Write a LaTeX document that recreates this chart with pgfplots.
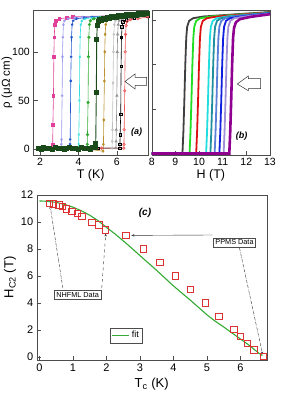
\documentclass[border=0pt]{standalone}
\usepackage{pgfplots}
\pgfplotsset{compat=1.18}
\usepackage{fontspec}
\setmainfont{Liberation Sans}
\usetikzlibrary{arrows.meta}
\definecolor{cMag}{HTML}{E0409A}
\definecolor{cLav}{HTML}{9A9AEE}
\definecolor{cBlu}{HTML}{2255CC}
\definecolor{cCya}{HTML}{33DDDD}
\definecolor{cGrn}{HTML}{33AA33}
\definecolor{cDkg}{HTML}{1A4A1A}
\definecolor{cGld}{HTML}{B8902A}
\definecolor{cLgy}{HTML}{C0C0C0}
\definecolor{cGry}{HTML}{909090}
\definecolor{cRed}{HTML}{EE5555}
\definecolor{bBlk}{HTML}{404040}
\definecolor{bGrn}{HTML}{22DD22}
\definecolor{bRed}{HTML}{DD1111}
\definecolor{bCya}{HTML}{22DDDD}
\definecolor{bTea}{HTML}{2090A0}
\definecolor{bSte}{HTML}{5A80D8}
\definecolor{bBlu}{HTML}{1020E0}
\definecolor{bLav}{HTML}{A090D8}
\definecolor{bPur}{HTML}{900090}
\definecolor{fitG}{HTML}{33AA33}
\definecolor{sqR}{HTML}{DD3333}
\pgfplotsset{
  common/.style={scale only axis, anchor=south west,
    /pgf/number format/assume math mode=true,
    tick label style={font=\fontsize{10.5}{12}\selectfont},
    label style={font=\fontsize{12.5}{14}\selectfont},
    axis line style={black!70}, tick style={black!70},
    xtick pos=bottom, ytick pos=left},
}
\begin{document}
\begin{tikzpicture}[x=1pt,y=1pt]
\useasboundingbox (0,0) rectangle (293,404);
% ---------------- panel (a)
\begin{axis}[common, at={(33.3pt,249pt)}, width=114.7pt, height=145pt,
  xmin=1.65, xmax=7.62, ymin=-6, ymax=143,
  xtick={2,4,6}, ytick={0,50,100},
  xlabel={T (K)}, ylabel={ρ (μΩ cm)},
  xlabel style={yshift=3pt}, ylabel style={yshift=-7pt, font=\fontsize{11.5}{13}\selectfont},
  every axis plot/.append style={line width=0.6pt, mark size=1.3pt}]
\addplot[cMag, mark=square*] coordinates {(1.9,0.5)(2.3,1)(2.65,1)(2.66,5)(2.67,25)(2.70,55)(2.72,95)(2.74,115)(2.77,128)(2.82,132)(3.0,134)(3.4,135)(3.7,136)(7.6,138)};
\addplot[cLav, mark=asterisk] coordinates {(1.9,0.5)(2.5,1)(3.10,1)(3.11,5)(3.12,10)(3.15,55)(3.17,95)(3.19,115)(3.22,128)(3.27,132)(3.45,134)(3.8,135)(4.2,136)(7.6,138)};
\addplot[cBlu, mark=asterisk] coordinates {(1.9,0.5)(2.8,1)(3.55,1)(3.56,5)(3.57,10)(3.60,70)(3.62,95)(3.64,115)(3.67,128)(3.72,132)(3.9,134)(4.3,135)(4.7,136)(7.6,138)};
\addplot[cCya, mark=x] coordinates {(1.9,0.5)(3.0,1)(4.00,1)(4.01,5)(4.02,15)(4.05,50)(4.07,95)(4.09,115)(4.12,128)(4.17,132)(4.35,134)(4.7,135)(5.1,136)(7.6,138)};
\addplot[cGrn, mark=*] coordinates {(1.9,0.5)(3.4,1)(4.45,1)(4.46,5)(4.47,15)(4.50,48)(4.52,95)(4.54,115)(4.57,128)(4.62,132)(4.8,134)(5.1,135)(5.5,136)(7.6,138)};
\addplot[cGld, mark=diamond*] coordinates {(1.9,0.5)(4.0,1)(5.28,-2)(5.30,5)(5.32,30)(5.35,70)(5.37,100)(5.39,118)(5.42,128)(5.47,132)(5.65,134)(6.0,135)(6.4,136)(7.6,138)};
\addplot[cLgy, mark=diamond] coordinates {(1.9,0.5)(4.5,1)(5.75,1)(5.76,8)(5.77,20)(5.80,68)(5.82,100)(5.84,118)(5.87,128)(5.92,132)(6.1,134)(6.5,135)(7.6,137)};
\addplot[cGry, mark=triangle] coordinates {(1.9,0.5)(4.7,1)(5.95,1)(5.96,8)(5.97,20)(6.00,55)(6.02,100)(6.04,118)(6.07,128)(6.12,132)(6.3,134)(6.7,135)(7.6,137)};
\addplot[black, mark=square] coordinates {(1.9,0.5)(5.0,1)(6.15,1)(6.16,5)(6.17,15)(6.20,36)(6.22,85)(6.24,115)(6.27,126)(6.32,131)(6.5,133)(6.9,135)(7.6,137)};
\addplot[cRed, mark=o] coordinates {(1.9,0.5)(5.2,1)(6.36,1)(6.37,5)(6.38,20)(6.41,60)(6.43,100)(6.45,118)(6.48,127)(6.53,131)(6.7,133)(7.1,134)(7.6,136)};
\addplot[cDkg, line width=0.9pt, mark=square*, mark size=2pt] coordinates {(1.9,1)(2.05,0)(2.2,1.5)(2.35,0.5)(2.5,1)(2.65,0)(2.8,1.5)(2.95,0.5)(3.1,1)(3.25,0)(3.4,1)(3.55,1.5)(3.7,0.5)(3.85,1)(4.0,0)(4.15,1.5)(4.3,0.5)(4.45,1)(4.6,0)(4.75,1.5)(4.88,2)(4.90,6)(4.93,58)(4.95,113)(4.98,127)(5.02,131)(5.1,133)(5.2,132)(5.3,134)(5.4,133)(5.5,135)(5.6,134)(5.7,136)(5.8,135)(5.9,136)(6.0,135)(6.1,137)(6.2,136)(6.3,137)(6.4,136)(6.5,138)(6.6,137)(6.7,138)(6.8,137)(6.9,138)(7.0,137)(7.1,139)(7.2,138)(7.3,139)(7.4,138)(7.5,139)(7.6,139)};
\node[font=\bfseries\itshape\fontsize{9}{10}\selectfont] at (rel axis cs:0.9,0.16) {(a)};
\end{axis}
% ---------------- panel (b)
\begin{axis}[common, at={(151.7pt,249pt)}, width=118.3pt, height=145pt,
  xmin=8, xmax=13, ymin=-0.034, ymax=3.225,
  xtick={8,...,13}, ytick={1,2,3}, yticklabels={},
  xlabel={H (T)}, xlabel style={yshift=3pt},
  every axis plot/.append style={line width=1.8pt, no marks}]
\addplot[bBlk] coordinates {(8,0)(9.30,0)(9.34,0.5)(9.38,1.2)(9.42,2.0)(9.46,2.6)(9.50,2.85)(9.58,2.98)(9.75,3.04)(10.2,3.08)(13,3.18)};
\addplot[bGrn] coordinates {(8,0)(9.60,0)(9.64,0.5)(9.68,1.2)(9.72,2.0)(9.76,2.6)(9.80,2.85)(9.88,2.98)(10.05,3.04)(10.5,3.08)(13,3.17)};
\addplot[bRed] coordinates {(8,0)(9.88,0)(9.92,0.5)(9.96,1.2)(10.00,2.0)(10.04,2.6)(10.08,2.85)(10.16,2.98)(10.33,3.04)(10.78,3.08)(13,3.17)};
\addplot[bCya] coordinates {(8,0)(10.30,0)(10.34,0.5)(10.38,1.2)(10.42,2.0)(10.46,2.6)(10.50,2.85)(10.58,2.98)(10.75,3.04)(11.2,3.08)(13,3.16)};
\addplot[bTea] coordinates {(8,0)(10.48,0)(10.52,0.5)(10.56,1.2)(10.60,2.0)(10.64,2.6)(10.68,2.85)(10.76,2.98)(10.93,3.04)(11.38,3.08)(13,3.16)};
\addplot[bSte] coordinates {(8,0)(10.66,0)(10.70,0.5)(10.74,1.2)(10.78,2.0)(10.82,2.6)(10.86,2.85)(10.94,2.98)(11.11,3.04)(11.56,3.08)(13,3.15)};
\addplot[bBlu] coordinates {(8,0)(10.86,0)(10.90,0.5)(10.94,1.2)(10.98,2.0)(11.02,2.6)(11.06,2.85)(11.14,2.98)(11.31,3.04)(11.76,3.08)(13,3.15)};
\addplot[bLav] coordinates {(8,0)(11.04,0)(11.08,0.5)(11.12,1.2)(11.16,2.0)(11.20,2.6)(11.24,2.85)(11.32,2.98)(11.49,3.04)(11.94,3.08)(13,3.14)};
\addplot[bPur, line width=2.6pt] coordinates {(8,0)(11.28,0)(11.32,0.5)(11.36,1.2)(11.40,2.0)(11.44,2.6)(11.48,2.82)(11.56,2.95)(11.73,3.02)(12.18,3.07)(13,3.13)};
\node[font=\bfseries\itshape\fontsize{9}{10}\selectfont] at (rel axis cs:0.76,0.13) {(b)};
\end{axis}
% open arrows
\draw[black!80, line width=0.5pt, fill=white] (125,322.5) -- (135,330) -- (135,326.5) -- (146.5,326.5) -- (146.5,318.5) -- (135,318.5) -- (135,315) -- cycle;
\draw[black!80, line width=0.5pt, fill=white] (237.3,320) -- (248.3,328) -- (248.3,325.3) -- (260.7,325.3) -- (260.7,315.3) -- (248.3,315.3) -- (248.3,313.3) -- cycle;
% ---------------- panel (c)
\begin{axis}[common, at={(36.7pt,44pt)}, width=230pt, height=165pt,
  xmin=-0.08, xmax=6.78, ymin=-0.25, ymax=12,
  xtick={0,...,6}, ytick={0,2,...,12},
  tick label style={font=\fontsize{11}{12}\selectfont},
  label style={font=\fontsize{13}{15}\selectfont},
  xlabel={T\textsubscript{c} (K)}, ylabel={H\textsubscript{C2} (T)},
  ylabel style={yshift=-2pt},
  legend style={at={(0.39,0.15)}, anchor=center, draw=black!70, font=\fontsize{9}{10}\selectfont, inner sep=1.5pt}]
\addplot[fitG, line width=1.1pt] coordinates {(0,11.56)(0.25,11.53)(0.5,11.45)(0.75,11.3)(1.0,11.1)(1.25,10.83)(1.5,10.5)(1.75,10.1)(2.0,9.6)(2.25,9.12)(2.5,8.6)(2.75,8.06)(3.0,7.5)(3.25,6.95)(3.5,6.4)(3.75,5.82)(4.0,5.25)(4.25,4.72)(4.5,4.2)(4.75,3.65)(5.0,3.1)(5.25,2.62)(5.5,2.2)(5.75,1.75)(6.0,1.3)(6.2,0.95)(6.4,0.55)(6.55,0.25)(6.65,0.08)};
\addlegendentry{fit}
\addplot[only marks, mark=square, mark size=3.2pt, sqR, line width=0.8pt, forget plot] coordinates {(0.30,11.39)(0.42,11.34)(0.58,11.26)(0.68,11.14)(0.80,10.96)(0.97,10.80)(1.13,10.64)(1.27,10.40)(1.57,9.97)(1.77,9.78)(1.97,9.40)(2.58,9.0)(3.1,8.0)(3.6,7.0)(4.05,6.0)(4.5,5.0)(4.95,4.0)(5.35,3.0)(5.8,2.0)(6.0,1.5)(6.2,1.0)(6.4,0.5)(6.68,0.0)};
\draw[densely dashdotted, -{Stealth[length=3pt]}, black!80] (axis cs:0.70,5.08) -- (axis cs:0.32,11.2);
\draw[dashed, -{Stealth[length=3pt]}, black!80] (axis cs:1.86,5.08) -- (axis cs:1.98,9.15);
\draw[-{Stealth[length=3pt]}, black!80] (axis cs:5.17,9.03) -- (axis cs:2.74,9.0);
\draw[densely dashdotted, -{Stealth[length=3pt]}, black!80] (axis cs:5.97,8.05) -- (axis cs:6.66,0.15);
\node[draw=black!70, fill=white, font=\fontsize{7.3}{8}\selectfont, inner sep=2pt] at (axis cs:1.14,4.58) {NHFML Data};
\node[draw=black!70, fill=white, font=\fontsize{7.3}{8}\selectfont, inner sep=2pt] at (axis cs:5.82,8.48) {PPMS Data};
\node[font=\bfseries\itshape\fontsize{10}{11}\selectfont] at (axis cs:3.15,10.65) {(c)};
\end{axis}
\end{tikzpicture}
\end{document}
